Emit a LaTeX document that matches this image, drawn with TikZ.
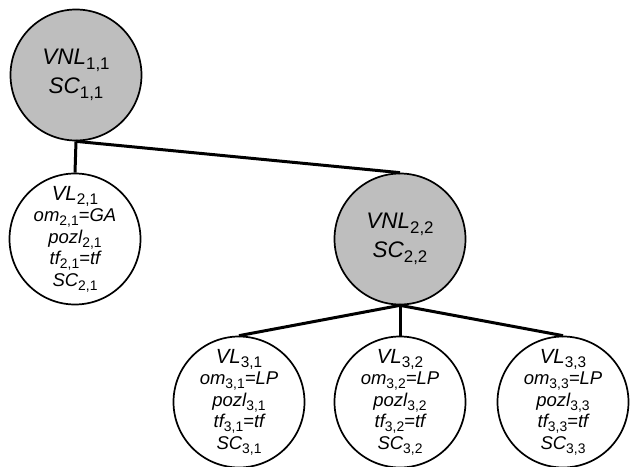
\documentclass[tikz,border=0pt]{standalone}
\usepackage{fontspec}
\setmainfont{Liberation Sans}
\definecolor{nodegray}{RGB}{190,190,190}
\newcommand\sbx[1]{\raisebox{-0.2em}{\scalebox{0.75}{\upshape #1}}}
\newcommand\vlfirst[1]{{\fontsize{20.5}{22}\selectfont #1}}
\begin{document}
\begin{tikzpicture}[x=1pt,y=1pt,
  ring/.style={circle, draw, line width=1.7pt, minimum size=131pt, inner sep=0pt},
  dark/.style={ring, fill=nodegray},
  light/.style={ring, fill=white},
  link/.style={line width=3pt},
  bigtxt/.style={align=center, font=\fontsize{22.5}{29}\selectfont\itshape},
  smalltxt/.style={align=center, font=\fontsize{18.5}{21.5}\selectfont\itshape}]
\useasboundingbox (0,0) rectangle (632,-466);
\node[dark]  (root)  at (76,-75)  {};
\node[light] (vl21)  at (75,-239) {};
\node[dark]  (vnl22) at (400,-239) {};
\node[light] (vl31)  at (239,-402) {};
\node[light] (vl32)  at (400,-402) {};
\node[light] (vl33)  at (563,-402) {};
\draw[link] (root.south) -- (vl21.north);
\draw[link] (root.south) -- (vnl22.north);
\draw[link] (vnl22.south) -- (vl31.north);
\draw[link] (vnl22.south) -- (vl32.north);
\draw[link] (vnl22.south) -- (vl33.north);
\node[bigtxt] (root-t) at (root) {VNL\sbx{1,1}\\SC\sbx{1,1}};
\node[bigtxt] (vnl22-t) at (vnl22) {VNL\sbx{2,2}\\SC\sbx{2,2}};
\node[smalltxt] (vl21-t) at (vl21) {\vlfirst{VL\sbx{2,1}}\\om\sbx{2,1}=GA\\pozl\sbx{2,1}\\tf\sbx{2,1}=tf\\SC\sbx{2,1}};
\node[smalltxt] (vl31-t) at (vl31) {\vlfirst{VL\sbx{3,1}}\\om\sbx{3,1}=LP\\pozl\sbx{3,1}\\tf\sbx{3,1}=tf\\SC\sbx{3,1}};
\node[smalltxt] (vl32-t) at (vl32) {\vlfirst{VL\sbx{3,2}}\\om\sbx{3,2}=LP\\pozl\sbx{3,2}\\tf\sbx{3,2}=tf\\SC\sbx{3,2}};
\node[smalltxt] (vl33-t) at (vl33) {\vlfirst{VL\sbx{3,3}}\\om\sbx{3,3}=LP\\pozl\sbx{3,3}\\tf\sbx{3,3}=tf\\SC\sbx{3,3}};
\end{tikzpicture}
\end{document}
